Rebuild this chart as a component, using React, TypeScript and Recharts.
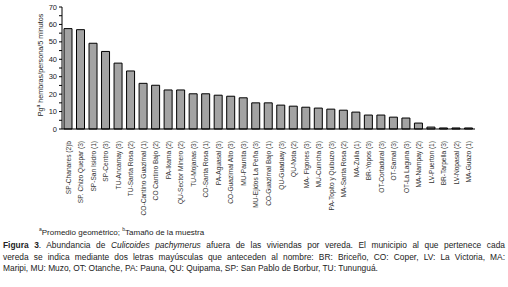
import React from 'react';
import { BarChart, Bar, XAxis, YAxis } from 'recharts';

// veredas (municipio-nombre, tamaño de muestra)
const veredas = [
  'SP-Chanares (2)b',
  'SP. Chizo Quepar (3)',
  'SP-San Isidro (1)',
  'SP-Centro (3)',
  'TU-Ancamay (3)',
  'TU-Santa Rosa (2)',
  'CO-Cantino Guazimal (1)',
  'CO Cantino Bajo (2)',
  'PA-Ikama (2)',
  'QU-Sector Minero (2)',
  'TU-Mojanas (3)',
  'CO-Santa  Rosa (1)',
  'PA-Aguasal (3)',
  'CO-Guazimal Alto (3)',
  'MU-Paunita (3)',
  'MU-Ejidos La Peña (3)',
  'CO-Guazimal Bajo (1)',
  'QU-Guaduay (3)',
  'QU-Nota (2)',
  'MA- Figones (3)',
  'MU-Cuincha (3)',
  'PA-Topito y Quibuzo (3)',
  'MA-Santa  Rosa (2)',
  'MA-Zulia (1)',
  'BR-Yopos (3)',
  'OT-Cortadural (3)',
  'OT-Samal (3)',
  'OT-La Laguna (3)',
  'MA-Nampay (2)',
  'LV-Puerton (1)',
  'BR-Tarpella (3)',
  'LV-Nopasal (2)',
  'MA-Guazo (1)',
];

// promedio geométrico de hembras por persona en 5 minutos
const promedio = [
  57.6, 57.0, 49.2, 44.5, 37.8, 33.3, 26.2, 25.1, 22.4, 22.4, 20.2,
  20.2, 19.4, 18.8, 17.9, 15.0, 15.0, 13.7, 13.1, 12.5, 12.0, 11.4,
  10.8, 9.7, 8.0, 8.0, 6.8, 6.3, 3.4, 1.1, 0.6, 0.6, 0.6,
];

const yTicks = [0, 5, 10, 15, 20, 25, 30, 35, 40, 45, 50, 55, 60, 65, 70];

const data = veredas.map((v, i) => ({ vereda: v, valor: promedio[i] }));

const FONT = '"Liberation Sans", Arial, sans-serif';

const YTick = (props: any) => {
  const { x, y, payload } = props;
  if (payload.value % 10 !== 0) return null;
  return (
    <text x={x} y={y} dy={2.5} textAnchor="end" fontSize={7.5} fill="#222" fontFamily={FONT}>
      {payload.value}
    </text>
  );
};

const XTick = (props: any) => {
  const { x, y, payload } = props;
  return (
    <text
      transform={`translate(${x + 2.5},${y + 4}) rotate(-90)`}
      textAnchor="end"
      fontSize={6.6}
      fill="#333"
      fontFamily={FONT}
    >
      {payload.value}
    </text>
  );
};

const YLabel = (props: any) => {
  const { viewBox } = props;
  const cy = viewBox.y + viewBox.height / 2 - 3;
  return (
    <text
      transform={`translate(43,${cy}) rotate(-90)`}
      textAnchor="middle"
      fontSize={7.2}
      fill="#222"
      fontFamily={FONT}
    >
      Pg<tspan fontSize={5} dy={-3}>a</tspan>
      <tspan dy={3}> hembras/persona/5 minutos</tspan>
    </text>
  );
};

export default function App() {
  return (
    <div style={{ position: 'absolute', left: 0, top: 0, width: 508, height: 287, background: '#fff', fontFamily: FONT }}>
      <BarChart
        width={508}
        height={222}
        data={data}
        margin={{ top: 7, right: 33, left: 0, bottom: 0 }}
        barCategoryGap={4}
      >
        <XAxis
          dataKey="vereda"
          interval={0}
          tick={<XTick />}
          tickLine={false}
          axisLine={{ stroke: '#000' }}
          height={93}
        />
        <XAxis xAxisId="top" orientation="top" dataKey="vereda" tick={false} tickLine={false} axisLine={{ stroke: '#000' }} height={0} />
        <YAxis
          domain={[0, 70]}
          ticks={yTicks}
          interval={0}
          tick={<YTick />}
          tickSize={3}
          tickLine={{ stroke: '#000' }}
          axisLine={{ stroke: '#000' }}
          width={62}
          label={<YLabel />}
        />
        <YAxis yAxisId="right" orientation="right" tick={false} tickLine={false} axisLine={{ stroke: '#000' }} width={0} />
        <Bar dataKey="valor" fill="#a3a3a3" stroke="#000" strokeWidth={1} barSize={8} isAnimationActive={false} />
      </BarChart>
      <div style={{ position: 'absolute', left: 39, top: 228, fontSize: 8, lineHeight: '10px', color: '#222', whiteSpace: 'nowrap' }}>
        <sup style={{ fontSize: 5, lineHeight: 0 }}>a</sup>Promedio geométrico; <sup style={{ fontSize: 5, lineHeight: 0 }}>b</sup>Tamaño de la muestra
      </div>
      <div style={{ position: 'absolute', left: 3, top: 240, width: 502, fontSize: 8.4, lineHeight: '11.5px', color: '#222' }}>
        <div style={{ textAlign: 'justify', textAlignLast: 'justify', whiteSpace: 'nowrap' }}>
          <b>Figura 3</b>. Abundancia de <i>Culicoides pachymerus</i> afuera de las viviendas por vereda. El municipio al que pertenece cada
        </div>
        <div style={{ textAlign: 'justify', textAlignLast: 'justify', whiteSpace: 'nowrap' }}>
          vereda se indica mediante dos letras mayúsculas que anteceden al nombre: BR: Briceño, CO: Coper, LV: La Victoria, MA:
        </div>
        <div style={{ whiteSpace: 'nowrap' }}>
          Maripi, MU: Muzo, OT: Otanche, PA: Pauna, QU: Quipama, SP: San Pablo de Borbur, TU: Tununguá.
        </div>
      </div>
    </div>
  );
}
